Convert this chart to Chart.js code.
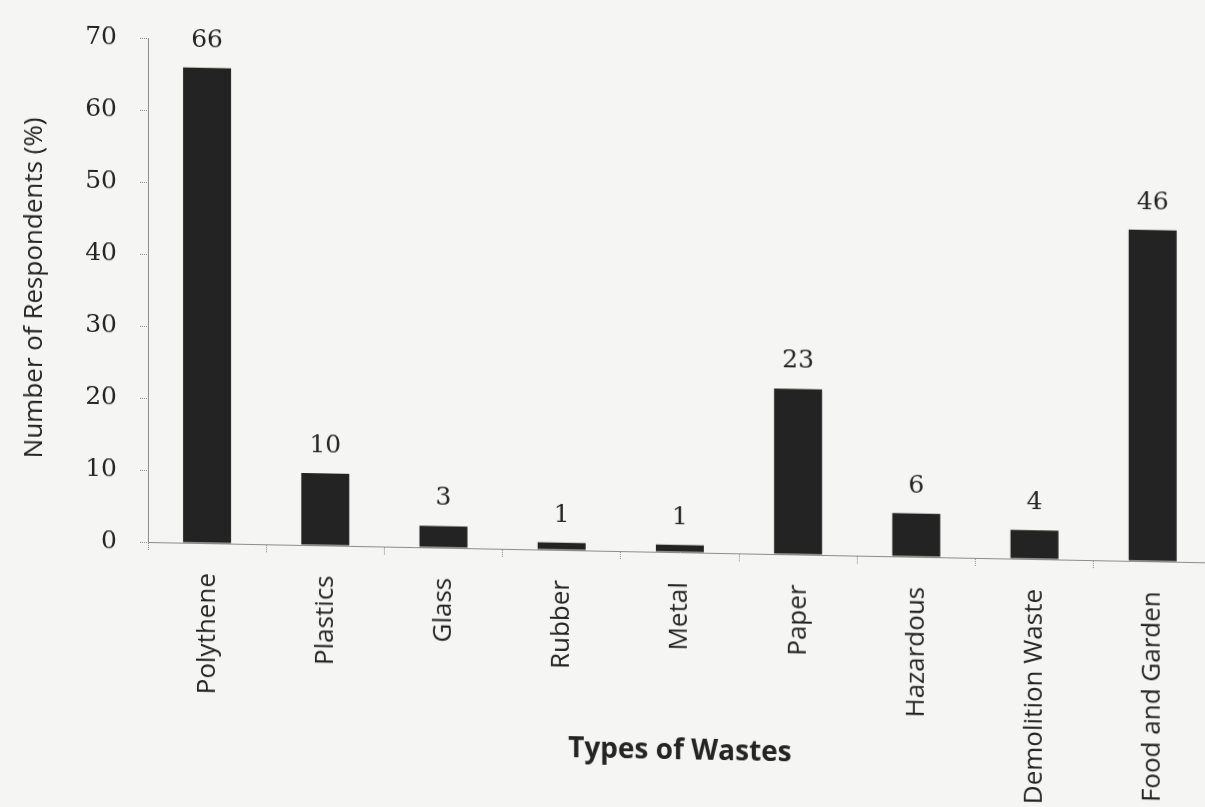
<!DOCTYPE html>
<html>
<head>
<meta charset="utf-8">
<script src="https://cdn.jsdelivr.net/npm/chart.js@4.4.1/dist/chart.umd.min.js"></script>
<style>
html,body{margin:0;padding:0;background:#f5f5f3;overflow:hidden}
/* the scanned figure sags slightly to the right */
#wrap{position:relative;width:1212px;height:807px;transform:skewY(1.1deg);transform-origin:148px 542px}
</style>
</head>
<body>
<div id="wrap"><canvas id="c" width="1212" height="807"></canvas></div>
<script>
const wasteTypes=['Polythene','Plastics','Glass','Rubber','Metal','Paper','Hazardous','Demolition Waste','Food and Garden'];
const respondentPct=[66,10,3,1,1,23,6,4,46];
const yMin=0, yMax=70, yStep=10;

const textColor='#242424';
const axisColor='#8c8c8c';

// value printed above each bar
const barLabels={
    id:'barLabels',
    afterDatasetsDraw(chart){
        const {ctx}=chart;
        const meta=chart.getDatasetMeta(0);
        ctx.save();
        ctx.font='25px "DejaVu Serif"';
        ctx.fillStyle=textColor;
        ctx.textAlign='center';
        ctx.textBaseline='alphabetic';
        meta.data.forEach((bar,i)=>{ ctx.fillText(String(respondentPct[i]), bar.x, bar.y-21); });
        ctx.restore();
    }
};

new Chart(document.getElementById('c'),{
    type:'bar',
    data:{
        labels:wasteTypes,
        datasets:[{ data:respondentPct, backgroundColor:'#232323', borderWidth:0, categoryPercentage:1, barPercentage:0.406 }]
    },
    options:{
        responsive:false,
        animation:false,
        layout:{ padding:{ top:33, right:0, bottom:0, left:0 } },
        plugins:{ legend:{display:false}, tooltip:{enabled:false} },
        scales:{
            x:{
                grid:{ drawOnChartArea:false, tickLength:8, color:axisColor, tickBorderDash:[1,1] },
                border:{ color:axisColor, dash:[1,1] },
                ticks:{ minRotation:90, maxRotation:90, autoSkip:false, padding:22, color:textColor, font:{ family:'"Open Sans"', size:26 } },
                title:{ display:true, text:'Types of Wastes', color:textColor, font:{ family:'"Open Sans"', size:28, weight:'bold', lineHeight:1.2 }, padding:{ top:0, bottom:49 } },
                afterFit(s){ s.height=265; }
            },
            y:{
                min:yMin, max:yMax,
                grid:{ drawOnChartArea:false, tickLength:8, color:axisColor, tickBorderDash:[1,1] },
                border:{ color:axisColor, dash:[1,1] },
                ticks:{ stepSize:yStep, padding:23, color:textColor, font:{ family:'"DejaVu Serif"', size:25 } },
                title:{ display:true, text:'Number of Respondents (%)', color:textColor, font:{ family:'"Open Sans"', size:26, lineHeight:1.2 }, padding:{ top:19, bottom:0 } },
                afterFit(s){ s.width=148; }
            }
        }
    },
    plugins:[barLabels]
});
</script>
</body>
</html>
